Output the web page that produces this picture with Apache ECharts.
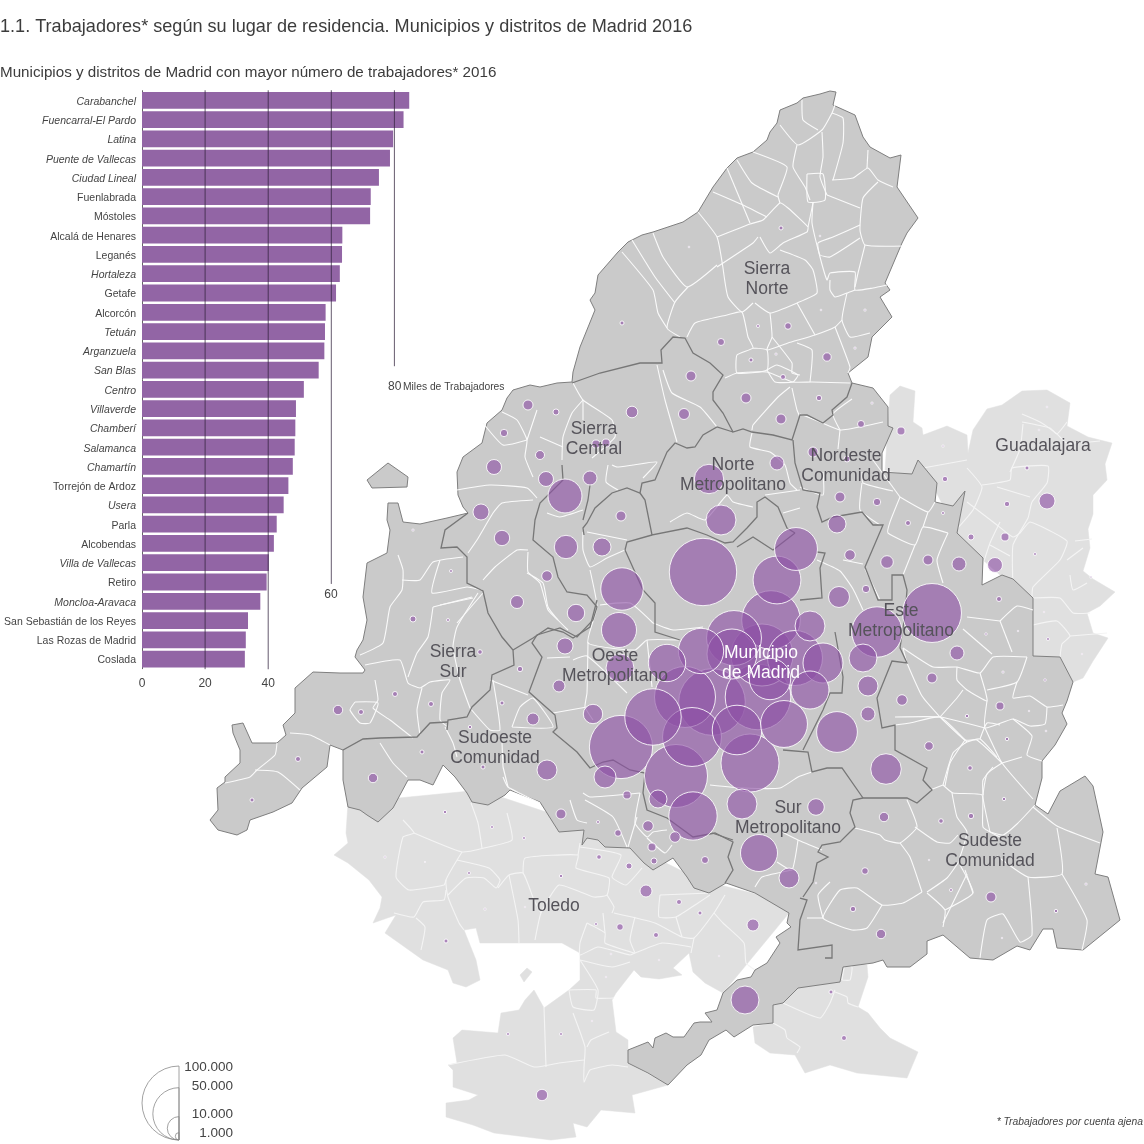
<!DOCTYPE html>
<html>
<head>
<meta charset="utf-8">
<title>Trabajadores Madrid 2016</title>
<script src="https://cdn.jsdelivr.net/npm/echarts@6/dist/echarts.min.js"></script>
<style>html,body{margin:0;padding:0;background:#fff}#main{width:1144px;height:1144px}</style>
</head>
<body>
<div id="main"></div>
<script>
// bar chart data (miles de trabajadores)
var categories = ['Carabanchel','Fuencarral-El Pardo','Latina','Puente de Vallecas','Ciudad Lineal','Fuenlabrada','Móstoles','Alcalá de Henares','Leganés','Hortaleza','Getafe','Alcorcón','Tetuán','Arganzuela','San Blas','Centro','Villaverde','Chamberí','Salamanca','Chamartín','Torrejón de Ardoz','Usera','Parla','Alcobendas','Villa de Vallecas','Retiro','Moncloa-Aravaca','San Sebastián de los Reyes','Las Rozas de Madrid','Coslada'];
var barValues = [84.7,82.9,79.6,78.6,75.1,72.5,72.3,63.5,63.4,62.7,61.5,58.2,58,57.8,56,51.3,48.8,48.6,48.4,47.8,46.4,44.9,42.7,41.8,40.2,39.5,37.5,33.6,32.9,32.6];
var districts = ['Carabanchel','Fuencarral-El Pardo','Latina','Puente de Vallecas','Ciudad Lineal','Hortaleza','Tetuán','Arganzuela','San Blas','Centro','Villaverde','Chamberí','Salamanca','Chamartín','Usera','Villa de Vallecas','Moncloa-Aravaca'];
var gridTicks = [20,40,60,80];
var gridEnds = [30.05,30.1,25.6,14.3]; // hasta que fila baja cada linea

// circulos: [x mapa, y mapa, trabajadores]
var bubblesLarge = [
[703,572,82960],[621,747,73000],[676,776,72500],[932,613,63500],[750,763,61500],[692,737,63400],[653,717,58200],[712,702,81000],[685,697,67950],[758,697,78600],[771,620,62700],[734,638,55000],[762,655,70200],[795,658,55200],[732,654,45600],[701,651,37500],[737,730,44900],[784,724,40200],[877,632,46400],[693,816,42700],[777,580,41800],[796,549,33600],[622,589,32900],[837,732,30400],[770,679,31300],[810,690,26400],[823,663,29200],[667,663,25500],[619,630,22400],[810,626,16400],[759,853,25000]
];
var bubblesMedium = [
[565,496,21000],[709,479,15800],[721,520,16400],[620,668,14300],[863,658,14300],[886,769,17100],[742,804,16400],[745,1000,14300],[839,597,8050],[868,686,7300],[605,777,8840],[593,714,6870],[547,770,7300],[658,799,5920],[566,547,10000],[602,547,5920],[481,512,4680],[494,467,4100],[502,538,4300],[546,479,4100],[590,478,3580],[576,613,5530],[565,646,4680],[517,602,3100],[559,686,2630],[533,719,2630],[1047,501,4680],[837,524,5920],[816,807,5030],[789,878,7300],[959,564,3580],[995,565,4100],[957,653,3580],[753,925,2630],[646,891,2630],[542,1095,2370]
];
var bubblesSmall = [
[781,228,290],[622,323,290],[721,342,900],[788,326,800],[758,326,160],[751,360,290],[827,357,1300],[783,377,460],[776,354,80],[855,348,80],[821,310,50],[865,310,80],[689,247,50],[820,236,50],
[691,376,1830],[632,412,2460],[684,414,2200],[746,398,1830],[819,398,530],[556,412,660],[781,419,1830],[528,405,1830],[504,433,1000],[540,455,1480],[596,444,1170],[606,443,1170],[621,516,1830],[547,576,2050],[777,463,3580],[813,452,1830],[847,459,660],[840,497,1830],[877,502,1000],[850,555,2050],[887,562,2900],[861,424,900],[872,403,80],[901,431,1170],[928,560,1830],
[480,652,390],[448,620,160],[413,619,660],[451,571,160],[413,530,80],[520,669,530],[502,703,290],[395,694,460],[431,704,460],[338,710,1610],[361,712,460],[298,759,460],[373,778,1610],[252,800,290],[422,752,290],[470,727,210],[483,767,290],[561,814,1830],[445,812,210],[492,827,160],[524,838,160],[627,795,1170],[648,826,2050],[618,833,800],[652,847,1170],[675,837,2050],[598,822,160],[705,860,900],[654,861,660],
[943,446,80],[1047,407,50],[1039,430,50],[1027,468,290],[945,479,530],[1007,504,530],[943,513,160],[908,523,460],[971,537,660],[1005,537,1170],[1035,554,160],[1091,577,80],[866,589,1000],[999,599,460],[986,634,110],[1018,631,40],[1044,612,40],[1048,639,160],[1082,654,40],[932,678,1830],[902,700,2050],[868,714,3580],[1003,672,80],[1045,680,110],[1000,706,1170],[1029,711,40],[967,716,210],[1046,731,50],[1007,739,210],[929,746,1350],[970,768,390],[1004,799,210],[971,816,530],[941,821,390],[884,817,1610],[929,860,40],[865,871,800],[816,883,50],[951,890,160],[991,897,1830],[853,909,530],[881,934,1610],[1056,911,210],[1086,884,80],[1002,938,40],
[385,857,80],[425,862,20],[469,873,160],[485,909,80],[446,941,290],[525,907,40],[561,876,210],[599,857,390],[629,866,660],[679,902,460],[700,913,290],[620,927,800],[596,924,160],[656,935,460],[611,954,50],[659,960,40],[719,956,40],[606,977,40],[592,1021,40],[508,1034,160],[561,1034,160],[831,992,290],[844,1038,460]
];

// leyenda de tamanos
var legendValues = [100000,50000,10000,1000];
var legendLabels = ['100.000','50.000','10.000','1.000'];

// contornos del mapa (coordenadas del mapa)
var madridShape = [[836,92],[830,91],[820,94],[803,98],[797,103],[780,110],[777,123],[770,132],[767,140],[753,152],[737,158],[727,168],[713,187],[698,212],[683,222],[653,232],[642,235],[628,242],[618,252],[598,275],[595,293],[590,300],[595,310],[580,347],[573,372],[572,382],[557,383],[540,387],[530,385],[513,390],[507,398],[502,410],[487,423],[482,443],[463,457],[457,472],[458,495],[463,507],[468,513],[447,518],[420,524],[403,522],[398,503],[388,503],[387,520],[390,530],[387,553],[367,563],[363,597],[367,620],[363,640],[357,650],[355,657],[365,670],[363,673],[340,673],[313,672],[295,688],[295,713],[283,725],[286,735],[277,743],[252,743],[243,723],[232,725],[233,733],[240,750],[240,763],[225,777],[225,782],[217,788],[218,810],[210,820],[218,830],[237,835],[247,830],[250,820],[273,812],[292,803],[302,788],[327,767],[330,745],[343,750],[343,780],[348,807],[360,810],[367,815],[378,822],[393,808],[408,780],[420,780],[433,785],[443,765],[455,777],[467,793],[472,802],[488,805],[505,795],[510,790],[540,802],[559,832],[584,830],[582,845],[587,838],[598,840],[605,847],[630,848],[644,863],[653,870],[673,858],[687,877],[694,888],[709,893],[726,883],[755,893],[789,913],[787,923],[791,927],[776,937],[780,943],[767,963],[755,970],[751,977],[737,980],[723,993],[717,1010],[705,1013],[712,1022],[700,1022],[694,1023],[684,1037],[673,1037],[666,1033],[655,1038],[653,1048],[648,1042],[628,1050],[628,1063],[648,1073],[668,1085],[687,1065],[701,1055],[709,1040],[726,1030],[734,1037],[753,1025],[773,1023],[773,1005],[783,1003],[798,988],[840,982],[843,967],[873,963],[883,960],[887,967],[910,967],[927,954],[927,941],[943,935],[970,958],[993,960],[1017,946],[1030,950],[1043,929],[1053,929],[1057,948],[1083,950],[1120,920],[1108,877],[1095,874],[1103,832],[1093,786],[1085,776],[1060,791],[1048,814],[1035,805],[1042,778],[1042,761],[1055,745],[1067,724],[1062,713],[1067,701],[1073,682],[1060,657],[1033,656],[1033,598],[1013,579],[1002,575],[982,585],[983,558],[957,533],[965,491],[953,506],[935,502],[937,483],[918,460],[912,474],[882,472],[882,453],[893,428],[888,426],[888,407],[873,388],[852,383],[848,373],[868,357],[872,337],[892,317],[880,297],[890,290],[885,283],[902,243],[907,233],[918,218],[897,187],[901,155],[890,158],[870,147],[863,137],[855,115],[833,105]];
var madridIsland = [[367,480],[388,463],[408,477],[407,487],[372,488]];
var toledoShape = [[348,803],[346,833],[348,843],[334,855],[348,863],[369,880],[382,897],[380,908],[373,923],[396,915],[385,933],[423,960],[448,970],[453,983],[466,987],[480,980],[476,960],[464,930],[476,928],[480,943],[519,943],[562,943],[580,953],[580,980],[569,990],[544,1008],[534,990],[525,1000],[519,1010],[501,1013],[498,1033],[462,1030],[453,1038],[457,1063],[448,1065],[453,1070],[453,1087],[478,1095],[469,1100],[446,1103],[446,1117],[473,1125],[494,1133],[551,1140],[576,1137],[573,1123],[587,1127],[601,1110],[635,1113],[632,1095],[668,1085],[628,1063],[628,1040],[616,1032],[612,1000],[616,993],[634,970],[641,977],[659,979],[682,975],[673,968],[689,953],[693,972],[705,983],[723,993],[789,913],[760,895],[700,880],[600,830],[480,790]];
var toledoIslet = [[520,975],[527,968],[532,972],[524,982]];
var toledoEast = [[753,1027],[755,1043],[770,1053],[795,1055],[805,1073],[830,1065],[857,1073],[907,1078],[918,1052],[890,1038],[880,1028],[868,1013],[858,1007],[868,977],[867,965],[842,962],[794,988],[773,1005],[773,1023]];
var guadalajaraShape = [[890,395],[900,386],[915,391],[913,422],[922,428],[923,435],[947,426],[967,435],[968,453],[973,430],[987,409],[1002,405],[1022,391],[1047,390],[1070,403],[1067,426],[1088,437],[1112,443],[1105,464],[1107,480],[1093,495],[1093,514],[1088,529],[1090,548],[1083,571],[1093,579],[1115,592],[1100,606],[1087,613],[1093,633],[1108,638],[1093,661],[1083,678],[1073,682],[1060,657],[1033,656],[1033,598],[1000,575],[983,560],[957,533],[930,480],[885,470]];

// limites de las subregiones
var darkLines = [
[[572,383],[600,373],[640,363],[662,363],[661,350],[673,337],[685,338],[693,353],[710,363],[723,375],[713,392],[713,400],[723,413],[733,432],[743,429],[752,432],[773,435],[792,440],[800,415],[807,415],[823,423],[833,415],[832,410],[847,397],[852,383]],
[[733,432],[717,427],[703,435],[695,447],[687,448],[675,443],[667,452],[655,480],[642,483],[640,493],[627,488],[612,493],[595,508],[587,523],[583,528],[584,535]],
[[640,493],[645,500],[652,535],[687,528],[707,535],[725,543],[733,542],[747,528],[757,517],[757,502],[765,497],[778,507],[787,528],[795,533]],
[[590,485],[588,500],[583,520]],
[[562,465],[563,480],[540,503],[535,520],[533,540],[553,557],[558,577],[567,592],[587,595],[597,607],[593,620],[577,637],[560,628],[537,635],[532,643],[542,657],[529,692],[555,715],[557,728],[553,732],[577,752],[590,768],[603,762],[613,760],[630,770],[645,773],[643,793],[647,810],[667,818],[693,837],[715,833],[733,842],[728,857],[733,870],[725,883]],
[[468,513],[445,530],[441,548],[457,547],[467,557],[467,583],[483,591],[488,613],[502,637],[513,650],[514,665],[492,675],[490,690],[472,707],[467,717],[448,720],[447,730]],
[[448,722],[430,723],[417,737],[380,738],[363,739],[343,750]],
[[513,650],[533,638],[548,628],[563,632],[573,638],[590,627],[597,600]],
[[625,550],[627,542],[652,535]],
[[625,550],[643,590],[655,603],[655,632],[680,640]],
[[793,440],[795,463],[803,490],[820,493],[817,507],[822,522],[833,517],[862,512],[873,525],[883,525],[865,567],[878,600],[892,600],[892,575],[903,575],[907,590],[905,615],[900,648],[907,663],[892,661],[877,698],[882,728],[895,725],[895,750],[927,768],[923,780],[932,790],[917,803],[907,798],[863,798],[853,800],[850,813],[855,827],[840,842],[822,845],[818,852],[828,857],[817,863],[813,882],[803,897]],
[[800,898],[807,900],[800,920],[798,950],[832,945],[832,958],[825,958]],
[[863,798],[842,768],[827,768],[812,772],[808,752],[783,750]],
[[803,750],[823,710],[830,693],[842,693],[843,677],[835,632]],
[[712,833],[733,840]],
[[737,547],[753,537],[773,550],[795,533]],
[[817,552],[825,553],[820,568],[822,598],[800,600]]
];

// limites de municipios
var whiteLines = [
[[780,125],[798,145],[822,130],[832,113],[835,105]],[[802,100],[803,120],[818,130]],[[822,132],[823,157],[820,177],[827,195]],[[832,113],[843,118],[843,143],[833,180]],[[797,145],[793,167],[805,187],[810,200]],[[807,174],[823,174],[825,200],[808,202],[807,174]],
[[753,152],[787,167],[778,195],[780,203]],[[737,160],[752,183],[778,197]],[[727,168],[750,223]],[[713,192],[743,205],[767,217]],[[698,212],[717,237],[723,268]],[[717,237],[750,224],[763,220],[780,203],[788,208],[808,227],[807,232],[783,243],[770,253],[760,237]],[[717,267],[753,243],[758,237]],[[813,203],[808,227]],[[827,195],[860,208]],[[832,180],[853,178],[868,168],[878,180],[893,187]],[[868,150],[867,168]],[[878,182],[863,198],[860,230],[865,245],[903,246]],[[860,225],[833,237],[818,243],[820,255],[830,257],[860,238]],[[865,245],[858,273],[855,287]],[[813,203],[812,223],[820,257],[827,280],[830,273],[855,272],[855,290],[873,288],[887,285]],[[830,280],[830,290],[835,297],[847,293],[855,290]],[[847,293],[842,320],[850,337],[870,333]],[[780,250],[805,260],[813,270],[817,293],[797,303],[770,313],[755,303]],[[723,268],[728,297],[742,312],[753,303]],[[688,287],[675,302],[667,328],[680,337]],[[622,252],[653,290],[658,313],[667,328]],[[632,240],[655,277],[675,303]],[[653,233],[663,257],[687,287],[717,265]],[[687,337],[695,323],[727,315],[742,312],[748,337],[753,348],[737,355],[737,373],[767,370],[767,350],[753,348]],[[770,313],[772,337],[767,350],[788,343],[815,335],[835,327],[842,320]],[[797,303],[815,335]],[[772,337],[792,363],[792,373],[800,375]],[[767,370],[777,365],[798,375],[793,382],[775,382],[767,370]],[[725,378],[737,373],[767,372],[793,382],[812,382],[850,383]],[[835,327],[850,367],[848,373]],[[797,343],[812,350],[810,382]],
[[657,365],[665,400],[677,442]],[[663,370],[672,393],[700,407],[717,427]],[[790,387],[778,397],[753,425],[752,430]],[[792,388],[797,410],[800,417]],[[752,433],[750,447],[770,452],[785,465],[790,483],[797,490]],[[765,495],[800,490]],[[783,513],[800,508]],[[670,522],[687,513],[705,520],[727,495],[733,502],[753,507]],
[[573,383],[583,400],[612,420],[615,437],[592,458]],[[583,400],[572,413],[563,437],[562,460]],[[583,400],[583,420]],[[540,437],[563,447]],[[612,465],[617,467],[633,465],[657,462],[643,478]],[[547,513],[560,517],[583,510]],[[587,532],[627,540]],[[583,532],[583,550],[590,567],[607,558],[625,550]],[[608,465],[606,482],[618,490]],
[[457,490],[490,485],[527,488],[537,498]],[[483,423],[503,445],[527,440]],[[502,412],[517,420],[527,440],[525,457],[533,477]],[[537,410],[527,440]],[[468,553],[477,540],[493,513],[502,503],[533,500]],[[483,580],[495,567],[517,550],[528,550]],[[528,552],[528,572],[540,583],[548,610],[558,620]],
[[398,555],[403,570],[402,590],[390,607],[383,643],[360,655]],[[402,580],[420,580],[433,562],[463,557]],[[440,560],[432,593],[467,587],[482,590]],[[433,607],[472,597]],[[433,607],[428,637],[417,653],[408,677]],[[478,593],[457,627],[453,647],[460,680],[470,708]],[[365,665],[400,660],[408,683],[420,688],[430,682],[450,680],[442,693],[440,720],[448,727]],[[422,688],[417,710],[420,735]],[[375,680],[378,700],[373,708],[390,720],[413,738]],[[355,702],[378,703],[370,723],[360,723],[350,710],[355,702]],[[290,733],[310,735],[330,745]],[[277,743],[275,755],[257,770],[250,777],[225,783]],[[255,770],[278,772],[300,790]],
[[380,743],[393,763],[407,777]],[[445,727],[453,743],[457,757]],[[470,708],[490,730],[500,730],[493,680]],[[490,680],[528,695]],[[512,727],[520,707],[533,698],[553,727],[512,727]],[[503,767],[508,787]],[[502,743],[503,767]],
[[527,573],[543,583],[548,607],[558,620],[568,630]],[[440,605],[473,598]],[[483,593],[457,623]],[[553,713],[587,707]],[[588,642],[587,693],[585,707],[593,720]],[[570,657],[547,658]],[[573,660],[587,656],[627,693]],[[653,623],[673,630],[703,627]],[[600,605],[630,603],[653,623]],[[590,570],[597,607],[588,643],[635,650],[647,640],[680,640]],[[647,640],[652,687]],
[[503,777],[508,787],[540,803]],[[583,793],[590,797],[640,793]],[[570,800],[577,820],[587,823]],[[585,800],[613,817],[627,847]],[[637,817],[628,847]],[[640,793],[635,823],[647,837],[653,832],[667,830]],[[647,838],[665,853],[672,845]],[[710,785],[743,788],[780,788],[798,777],[812,772]],[[798,840],[792,870],[777,862]],[[782,832],[798,840],[822,850]],[[792,870],[762,877],[755,887]],
[[855,828],[880,835],[885,840],[900,843],[917,827],[907,800]],[[900,843],[910,857],[922,892]],[[915,827],[937,842],[950,843],[958,835]],[[958,863],[947,878],[927,892]],[[922,892],[903,903],[882,905],[857,888],[840,890],[823,918],[852,930],[867,928],[882,905]],[[823,918],[807,918]],[[830,882],[818,895],[823,918]],[[927,893],[945,910],[943,927]],[[960,865],[973,893],[945,910]],[[943,785],[953,793],[982,795],[983,827],[1000,837]],[[952,793],[957,817],[967,832],[958,863]],[[943,785],[930,790]],[[943,785],[953,753],[967,742],[980,739],[997,757]],[[967,742],[940,717],[910,723],[895,725]],[[980,739],[987,723],[1000,725]],[[983,795],[983,780],[993,767]],
[[903,648],[933,667],[957,667],[980,673],[993,657],[1027,657]],[[963,629],[992,654]],[[1000,621],[1012,652]],[[1000,621],[1017,606],[1033,610]],[[967,617],[1000,621]],[[957,667],[957,680],[967,690],[987,701],[985,690],[980,673]],[[987,690],[1017,682],[1027,657]],[[1017,682],[1013,698],[1030,696],[1047,707],[1063,705]],[[1047,707],[1045,724],[1030,726],[1013,719],[985,728],[987,701]],[[1013,719],[1032,736],[1027,755],[1042,761]],[[985,728],[1002,763],[1033,799]],[[1002,763],[987,774],[983,797],[990,832]],[[1002,763],[1022,757]],[[1035,805],[1017,824],[1003,835],[990,832]],[[1033,807],[1057,826],[1100,843]],[[1057,828],[1062,874],[1028,877],[997,856]],[[1062,874],[1087,920],[1082,950]],[[1028,877],[1032,935],[1020,942],[1003,914],[987,920],[980,958]],[[965,870],[973,893]],[[943,923],[967,874]],[[940,717],[965,740],[977,740],[1002,763]],[[965,740],[950,763],[945,786]],[[895,717],[940,717],[985,728]],[[940,717],[957,698],[963,690]],[[903,648],[907,663],[922,696],[940,717]],
[[840,430],[833,414],[852,399]],[[840,430],[838,449]],[[800,487],[823,495],[823,472]],[[862,483],[860,510],[880,525]],[[900,497],[890,522],[888,533],[915,545],[923,527],[948,533]],[[900,497],[928,512],[935,502]],[[915,545],[903,575]],[[943,583],[937,560],[948,533]],[[923,527],[928,512]],[[873,460],[900,497]],[[862,472],[863,483],[893,491]],[[800,414],[820,422],[840,430],[865,426],[883,422]],[[817,560],[840,571],[853,589],[863,610]],[[843,560],[863,564]],[[880,600],[865,569]]
];
var lightLines = [
[[403,820],[414,833],[403,837],[396,877],[409,890],[444,885],[446,880]],[[414,833],[462,852],[484,848],[512,840],[507,813]],[[471,803],[478,823],[482,848]],[[462,852],[446,880],[448,897],[459,923],[464,930]],[[457,860],[489,868],[500,880],[496,888],[484,878],[466,878],[448,895]],[[446,890],[444,900],[423,902],[414,917],[394,913]],[[416,918],[425,927],[421,950]],[[498,888],[509,875],[523,873],[534,900],[541,913]],[[509,875],[518,920],[519,943]],[[523,873],[525,858],[578,855],[576,868],[609,878],[607,895],[594,897],[559,885],[541,913],[535,940]],[[580,843],[578,855]],[[580,847],[621,855],[612,877],[626,885],[642,868]],[[607,895],[614,907],[612,913]],[[614,913],[655,923],[682,937],[694,938],[714,913],[725,895]],[[660,895],[710,893]],[[660,895],[659,917],[676,917],[698,903],[710,895]],[[676,917],[682,937]],[[587,923],[580,943],[580,955],[598,947],[630,955],[635,953],[662,943],[691,947]],[[587,923],[605,933],[605,943],[634,953]],[[635,917],[630,940],[635,953]],[[603,913],[605,933]],[[714,913],[723,923],[744,943],[746,963],[755,970]],[[694,938],[691,953]],[[580,960],[612,967],[630,962]],[[569,990],[596,990],[596,998],[614,998]],[[580,960],[598,990],[594,1010],[573,1007],[569,990]],[[573,1013],[585,1047],[584,1067],[584,1082],[590,1070],[612,1065],[628,1067]],[[587,1047],[591,1040],[609,1032]],[[544,1007],[546,1067]],[[448,1065],[505,1055],[534,1067],[559,1063],[584,1060]],
[[783,1003],[820,1018],[830,1003],[835,990]],[[835,992],[847,997],[848,1003],[858,1007]],[[773,1023],[785,1030],[787,1038],[800,1047],[797,1053]],[[842,980],[845,965],[852,967],[850,980],[842,980]],
[[967,468],[982,487],[973,510],[957,529]],[[923,468],[967,460]],[[982,485],[1010,480],[1012,468],[1048,466],[1047,483],[1032,502],[1028,518],[1013,545],[1013,587]],[[967,502],[997,525],[1013,537],[1020,533],[1030,522],[1067,541],[1060,560],[1033,587],[1032,598]],[[997,487],[1030,497]],[[1000,522],[990,543],[977,583]],[[990,545],[1010,556]],[[1022,422],[1050,428],[1057,434],[1067,422]],[[1022,414],[1040,422],[1057,434],[1067,443],[1100,441]],[[1010,472],[1020,449],[1023,424]],[[1067,560],[1083,548]],[[1075,541],[1092,539]],[[1033,598],[1060,598],[1073,613],[1090,613]],[[1033,625],[1057,621],[1070,636],[1062,644],[1060,657]],[[1070,636],[1107,633]],[[1070,575],[1073,590],[1087,583]]
];

var workerRadius = function (v) { return 37 * Math.sqrt(v / 100000); };
var purple = '#9265a5';
var textFont = '"Liberation Sans", sans-serif';

// piezas del mapa en orden de dibujo
var mapParts = [];
function addParts(list, kind) { list.forEach(function (p) { mapParts.push({pts: p, kind: kind}); }); }
addParts([toledoShape, toledoIslet, toledoEast, guadalajaraShape], 'light');
addParts(lightLines, 'lightLine');
addParts([madridShape, madridIsland], 'madrid');
addParts(whiteLines, 'whiteLine');
addParts(darkLines, 'darkLine');

function renderMapPart(params, api) {
    var part = mapParts[params.dataIndex];
    var pts = part.pts.map(function (p) { return api.coord(p); });
    if (part.kind == 'light') {
        return {type: 'polygon', shape: {points: pts}, style: {fill: '#e0e0e0', stroke: '#e0e0e0', lineWidth: 0.5}};
    }
    if (part.kind == 'madrid') {
        return {type: 'polygon', shape: {points: pts}, style: {fill: '#cacaca', stroke: '#7f7f7f', lineWidth: 1}};
    }
    var st = {fill: null, lineWidth: 1.1, stroke: '#f4f4f4'};
    if (part.kind == 'whiteLine') { st.stroke = '#fafafa'; }
    if (part.kind == 'darkLine') { st.stroke = '#777777'; st.lineWidth = 1.3; }
    return {type: 'polyline', shape: {points: pts, smooth: part.kind == 'darkLine' ? 0 : 0.15}, style: st};
}

function renderLegend(params, api) {
    var v = api.value(0);
    var r = workerRadius(v);
    var base = api.coord([179, 1140]);
    return {
        type: 'group',
        children: [{
            type: 'arc',
            shape: {cx: base[0], cy: base[1] - r, r: r, startAngle: Math.PI / 2, endAngle: Math.PI * 1.5, clockwise: true},
            style: {fill: null, stroke: '#8a8a8a', lineWidth: 0.8}
        }, {
            type: 'line',
            shape: {x1: base[0], y1: base[1] - 2 * r, x2: base[0], y2: base[1]},
            style: {stroke: '#8a8a8a', lineWidth: 0.8}
        }]
    };
}

var regionLabels = [
    {t: 'Sierra\nNorte', x: 767, y: 279}, {t: 'Sierra\nCentral', x: 594, y: 439}, {t: 'Norte\nMetropolitano', x: 733, y: 475},
    {t: 'Nordeste\nComunidad', x: 846, y: 466}, {t: 'Guadalajara', x: 1043, y: 446}, {t: 'Este\nMetropolitano', x: 901, y: 621},
    {t: 'Oeste\nMetropolitano', x: 615, y: 666}, {t: 'Sierra\nSur', x: 453, y: 662}, {t: 'Sudoeste\nComunidad', x: 495, y: 748},
    {t: 'Sur\nMetropolitano', x: 788, y: 818}, {t: 'Sudeste\nComunidad', x: 990, y: 851}, {t: 'Toledo', x: 554, y: 906},
    {t: 'Municipio\nde Madrid', x: 761, y: 663, c: '#ffffff'}
];
var graphicTexts = regionLabels.map(function (l) {
    return {type: 'text', x: l.x, y: l.y, z: 20, style: {text: l.t, fill: l.c || '#55535a', font: '17.5px ' + textFont, align: 'center', verticalAlign: 'middle', lineHeight: 20}};
});
legendLabels.forEach(function (t, i) {
    graphicTexts.push({type: 'text', x: 233, y: [1067, 1086, 1114, 1133][i], z: 20, style: {text: t, fill: '#444', font: '13.5px ' + textFont, align: 'right', verticalAlign: 'middle'}});
});
graphicTexts.push({type: 'text', x: 331, y: 595, z: 20, style: {text: '60', fill: '#444', font: '12px ' + textFont, align: 'center', verticalAlign: 'middle'}});
graphicTexts.push({type: 'text', x: 388, y: 387, z: 20, style: {text: '80', fill: '#444', font: '12px ' + textFont, align: 'left', verticalAlign: 'middle'}});
graphicTexts.push({type: 'text', x: 403, y: 387, z: 20, style: {text: 'Miles de Trabajadores', fill: '#444', font: '10.3px ' + textFont, align: 'left', verticalAlign: 'middle'}});
graphicTexts.push({type: 'text', x: 1143, y: 1122, z: 20, style: {text: '* Trabajadores por cuenta ajena', fill: '#444', font: 'italic 10.3px ' + textFont, align: 'right', verticalAlign: 'middle'}});
graphicTexts.push({type: 'text', x: 0, y: 27, z: 20, style: {text: '1.1. Trabajadores* según su lugar de residencia. Municipios y distritos de Madrid 2016', fill: '#3c3c3c', font: '18.1px ' + textFont, align: 'left', verticalAlign: 'middle'}});
graphicTexts.push({type: 'text', x: 0, y: 73, z: 20, style: {text: 'Municipios y distritos de Madrid con mayor número de trabajadores* 2016', fill: '#3c3c3c', font: '15.2px ' + textFont, align: 'left', verticalAlign: 'middle'}});

var gridLineSeries = gridTicks.map(function (t, i) {
    return {
        type: 'line', xAxisIndex: 0, yAxisIndex: 1, z: 5, silent: true, symbol: 'none',
        lineStyle: {color: 'rgba(50,35,60,0.75)', width: 1},
        data: [[t, -0.05], [t, gridEnds[i]]]
    };
});

var allBubbles = bubblesLarge.concat(bubblesMedium, bubblesSmall);
allBubbles.sort(function (a, b) { return b[2] - a[2]; });

var option = {
    animation: false,
    backgroundColor: '#ffffff',
    textStyle: {fontFamily: textFont},
    graphic: {elements: graphicTexts},
    grid: [
        {left: 142, top: 90.7, width: 315.5, height: 578},
        {left: 0, top: 0, width: 1144, height: 1144}
    ],
    xAxis: [
        {gridIndex: 0, type: 'value', min: 0, max: 100, interval: 20, splitLine: {show: false}, axisLine: {show: false}, axisTick: {show: false},
            axisLabel: {color: '#444', fontSize: 12, margin: 9, formatter: function (v) { return v <= 40 ? String(v) : ''; }}},
        {gridIndex: 1, type: 'value', min: 0, max: 1144, show: false}
    ],
    yAxis: [
        {gridIndex: 0, type: 'category', inverse: true, data: categories, axisTick: {show: false}, axisLine: {lineStyle: {color: '#666', width: 1}},
            axisLabel: {margin: 6, fontSize: 10.5, color: '#444', interval: 0, padding: [3, 0, 0, 0], rich: {i: {fontStyle: 'italic', fontSize: 10.5, color: '#444'}, n: {fontSize: 10.5, color: '#444'}},
                formatter: function (v) { return (districts.indexOf(v) >= 0 ? '{i|' : '{n|') + v + '}'; }}},
        {gridIndex: 0, type: 'value', inverse: true, min: 0, max: 30, show: false},
        {gridIndex: 1, type: 'value', inverse: true, min: 0, max: 1144, show: false}
    ],
    series: [
        {type: 'custom', xAxisIndex: 1, yAxisIndex: 2, z: 1, silent: true, renderItem: renderMapPart, data: mapParts.map(function (p, i) { return [i]; })},
        {type: 'custom', xAxisIndex: 1, yAxisIndex: 2, z: 1, silent: true, renderItem: renderLegend, data: legendValues.map(function (v) { return [v]; })},
        {type: 'scatter', xAxisIndex: 1, yAxisIndex: 2, z: 2, data: allBubbles,
            symbolSize: function (d) { return 2 * workerRadius(d[2]); },
            itemStyle: {color: 'rgba(141,79,164,0.62)', borderColor: 'rgba(255,255,255,0.85)', borderWidth: 1, opacity: 1}},
        {type: 'bar', xAxisIndex: 0, yAxisIndex: 0, z: 3, data: barValues, barCategoryGap: '13%', itemStyle: {color: purple}}
    ].concat(gridLineSeries)
};

var myChart = echarts.init(document.getElementById('main'));
myChart.setOption(option);
</script>
</body>
</html>
